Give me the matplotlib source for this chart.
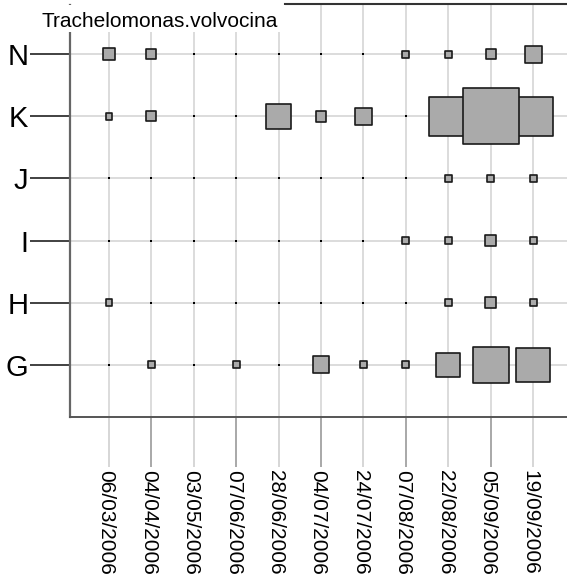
import numpy as np
from matplotlib import pyplot as plt
from matplotlib.patches import Rectangle
from matplotlib.lines import Line2D
from matplotlib.transforms import ScaledTranslation

# sampling dates and sites
dates = ['06/03/2006', '04/04/2006', '03/05/2006', '07/06/2006',
         '28/06/2006', '04/07/2006', '24/07/2006', '07/08/2006',
         '22/08/2006', '05/09/2006', '19/09/2006']
sites = ['G', 'H', 'I', 'J', 'K', 'N']

# relative abundance of Trachelomonas volvocina per site and date
abund_G = [0, 8, 0, 8, 0, 18, 8, 8, 25, 37, 35]
abund_H = [8, 0, 0, 0, 0, 0, 0, 0, 8, 12, 8]
abund_I = [0, 0, 0, 0, 0, 0, 0, 8, 8, 12, 8]
abund_J = [0, 0, 0, 0, 0, 0, 0, 0, 8, 8, 8]
abund_K = [8, 11, 0, 0, 26, 12, 18, 0, 40, 57, 40]
abund_N = [13, 11, 0, 0, 0, 0, 0, 8, 8, 11, 18]

title = 'Trachelomonas.volvocina'


def main():
    plt.rcParams['font.family'] = ['Liberation Sans', 'DejaVu Sans']
    W, H = 567, 578
    fig = plt.figure(figsize=(W / 100, H / 100), dpi=100)
    ax = fig.add_axes([70 / W, 1 - 417 / H, 1 - 70 / W, (417 - 5) / H])

    rows = [abund_G, abund_H, abund_I, abund_J, abund_K, abund_N]
    data = np.array(rows, dtype=float)
    xs, ys = np.meshgrid(np.arange(len(dates)), np.arange(len(sites)))
    xs, ys, vals = xs.ravel(), ys.ravel(), data.ravel()

    # grid
    for i in range(len(dates)):
        ax.axvline(i, color='#dcdcdc', lw=1.4, zorder=0)
    for j in range(len(sites)):
        ax.axhline(j, color='#dcdcdc', lw=1.4, zorder=0)

    # zero counts as small dots, others as squares sized by abundance
    zero = vals == 0
    ax.scatter(xs[zero], ys[zero], marker='s', s=2.0, color='black',
               linewidths=0, zorder=2)
    order = np.argsort(vals[~zero])
    side = vals[~zero][order] * 0.72 - 0.8
    ax.scatter(xs[~zero][order], ys[~zero][order], marker='s', s=side ** 2,
               facecolor='#aaaaaa', edgecolor='#1a1a1a', linewidths=1.2,
               zorder=3)

    ax.set_xlim(-0.92, 10.8)
    ax.set_ylim(-0.84, 5.79)
    ax.set_xticks(range(len(dates)))
    ax.set_xticklabels(dates, rotation=270, fontsize=15)
    ax.set_yticks(range(len(sites)))
    ax.set_yticklabels(sites, fontsize=21)
    ax.tick_params(axis='x', length=36, width=1.2, pad=2)
    ax.tick_params(axis='y', length=29, width=1.3, color='#333333', pad=1)

    for s in ['top', 'right']:
        ax.spines[s].set_visible(False)
    ax.spines['left'].set_color('#666666')
    ax.spines['left'].set_linewidth(1.6)
    ax.spines['bottom'].set_color('#555555')
    ax.spines['bottom'].set_linewidth(1.4)

    # title strip over the top-left corner
    fig.patches.append(Rectangle((0, 1 - 32 / H), 285 / W, 27 / H,
                                 transform=fig.transFigure,
                                 facecolor='white', edgecolor='none',
                                 zorder=5))
    fig.text(41 / W, 1 - 27 / H, title, fontsize=15, va='baseline',
             ha='left', zorder=6)

    # bottom edge of the heading above
    fig.add_artist(Line2D([285 / W, 1], [1 - 4 / H, 1 - 4 / H],
                          transform=fig.transFigure, color='#333333',
                          lw=1.5))

    # alternate light and darker date ticks, labels centred on the tick
    fig.canvas.draw()
    shift = ScaledTranslation(-3 / 100, 0, fig.dpi_scale_trans)
    for i, t in enumerate(ax.xaxis.get_major_ticks()):
        t.tick1line.set_markeredgecolor('#999999' if i % 2 else '#cfcfcf')
        t.label1.set_transform(t.label1.get_transform() + shift)

    fig.savefig('out.png', dpi=100)


if __name__ == "__main__":
    main()
